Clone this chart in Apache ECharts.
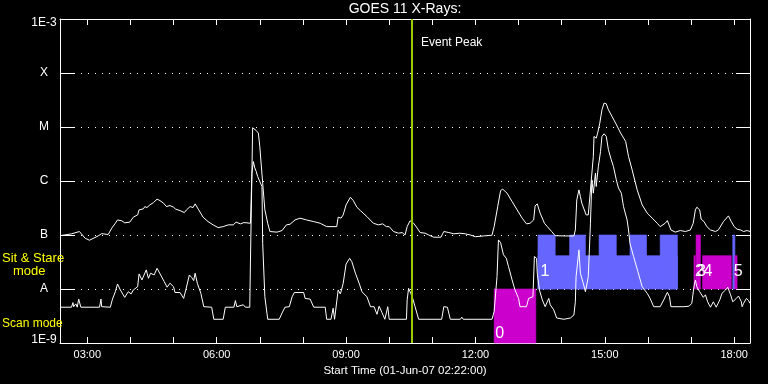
<!DOCTYPE html>
<html><head><meta charset="utf-8">
<script src="https://cdn.jsdelivr.net/npm/echarts@6/dist/echarts.min.js"></script>
<style>html,body{margin:0;padding:0;background:#000}#chart{width:768px;height:384px}</style>
</head><body><div id="chart"></div>
<script>
// ---------- data ----------
const axisStart = '02:22';
const axisEnd = '18:22';
const eventPeakTime = '10:31';
const xTickTimes = ['03:00','04:00','05:00','06:00','07:00','08:00','09:00','10:00','11:00','12:00','13:00','14:00','15:00','16:00','17:00','18:00'];
const xLabelTimes = ['03:00','06:00','09:00','12:00','15:00','18:00'];
const yTickLabels = ['1E-9','A','B','C','M','X','1E-3'];
const yMin = 1e-9, yMax = 1e-3;

// long-wavelength channel (upper curve)
const upperTimes = ['02:22','02:38','02:49','02:57','03:03','03:15','03:20','03:29','03:34','03:39','03:42','03:48','03:52','03:59','04:04','04:10','04:12','04:18','04:20','04:23','04:27','04:32','04:37','04:41','04:46','04:50','04:55','05:00','05:03','05:09','05:15','05:18','05:23','05:27','05:30','05:35','05:41','05:48','05:55','06:02','06:09','06:16','06:23','06:27','06:33','06:38','06:47','06:49','06:50','06:52','06:55','06:58','07:00','07:04','07:07','07:11','07:14','07:24','07:31','07:37','07:42','07:49','07:56','08:05','08:15','08:24','08:33','08:47','08:49','08:53','08:56','09:00','09:06','09:10','09:15','09:20','09:29','09:38','09:45','09:51','09:56','10:00','10:06','10:13','10:18','10:22','10:25','10:29','10:34','10:39','10:43','10:50','10:55','11:02','11:12','11:16','11:23','11:30','11:38','11:46','11:53','12:00','12:11','12:23','12:26','12:31','12:35','12:38','12:44','12:51','12:58','13:05','13:11','13:16','13:21','13:23','13:26','13:30','13:36','13:40','13:42','13:46','13:51','14:05','14:17','14:19','14:21','14:24','14:26','14:28','14:30','14:34','14:37','14:40','14:44','14:45','14:48','14:50','14:53','14:56','14:59','15:02','15:05','15:10','15:15','15:22','15:29','15:33','15:38','15:45','15:52','15:59','16:06','16:13','16:17','16:24','16:27','16:32','16:38','16:45','16:52','16:59','17:03','17:06','17:08','17:12','17:14','17:18','17:22','17:27','17:34','17:38','17:45','17:52','17:56','18:00','18:04','18:09','18:13','18:18','18:22'];
const upperFlux = [9.7e-8,1.05e-7,1.16e-7,8.7e-8,8.0e-8,9.6e-8,1.06e-7,1.02e-7,1.34e-7,1.65e-7,1.90e-7,1.83e-7,1.68e-7,1.73e-7,2.14e-7,2.36e-7,2.92e-7,3.05e-7,3.36e-7,3.22e-7,3.61e-7,3.98e-7,4.61e-7,4.34e-7,3.89e-7,3.36e-7,3.51e-7,3.27e-7,3.01e-7,2.83e-7,2.60e-7,2.92e-7,3.36e-7,3.22e-7,3.77e-7,2.92e-7,2.14e-7,1.77e-7,1.54e-7,1.37e-7,1.43e-7,1.54e-7,1.54e-7,1.73e-7,1.61e-7,1.70e-7,1.65e-7,1.40e-6,9.7e-6,9.95e-6,8.6e-6,7.7e-6,4.3e-6,9.1e-7,2.92e-7,1.65e-7,1.16e-7,1.13e-7,1.21e-7,1.54e-7,1.58e-7,1.90e-7,2.05e-7,1.90e-7,1.77e-7,1.65e-7,1.43e-7,1.43e-7,2.14e-7,2.05e-7,2.36e-7,3.61e-7,5.01e-7,4.34e-7,3.27e-7,2.83e-7,2.19e-7,1.65e-7,1.54e-7,1.61e-7,1.43e-7,1.43e-7,1.16e-7,1.08e-7,1.11e-7,1.00e-7,1.43e-7,1.83e-7,1.65e-7,1.34e-7,1.11e-7,1.08e-7,1.00e-7,9.1e-8,9.1e-8,1.16e-7,1.11e-7,1.05e-7,1.08e-7,1.05e-7,1.00e-7,9.3e-8,9.6e-8,9.9e-8,1.43e-7,3.36e-7,6.65e-7,7.06e-7,5.95e-7,4.16e-7,2.92e-7,2.05e-7,1.61e-7,1.65e-7,1.90e-7,3.46e-7,3.77e-7,2.54e-7,1.65e-7,1.43e-7,1.54e-7,1.16e-7,9.7e-8,9.6e-8,9.6e-8,1.24e-7,4.47e-7,6.85e-7,5.15e-7,3.89e-7,3.61e-7,2.36e-7,2.36e-7,6.85e-7,2.84e-6,6.7e-6,6.2e-6,7.7e-6,1.18e-5,2.08e-5,2.77e-5,2.69e-5,2.08e-5,1.57e-5,1.18e-5,7.7e-6,5.4e-6,2.84e-6,1.61e-6,6.85e-7,3.61e-7,2.54e-7,2.05e-7,1.65e-7,1.43e-7,1.65e-7,1.85e-7,1.24e-7,1.13e-7,1.21e-7,1.16e-7,1.24e-7,1.65e-7,2.92e-7,3.27e-7,2.92e-7,1.96e-7,1.77e-7,1.43e-7,1.24e-7,1.16e-7,1.24e-7,1.77e-7,2.26e-7,1.77e-7,1.43e-7,1.28e-7,1.24e-7,1.16e-7,1.21e-7,1.16e-7];

// short-wavelength channel (lower curve)
const lowerTimes = ['02:22','02:38','02:40','02:41','02:44','02:46','02:48','02:51','03:17','03:19','03:20','03:32','03:35','03:39','03:42','03:46','03:52','03:57','04:01','04:04','04:10','04:12','04:16','04:22','04:25','04:28','04:33','04:37','04:42','04:47','04:51','04:55','05:00','05:02','05:09','05:14','05:17','05:22','05:25','05:28','05:30','05:33','05:38','05:42','05:53','05:56','06:09','06:12','06:24','06:26','06:28','06:37','06:40','06:46','06:47','06:49','06:51','06:53','06:55','06:57','06:59','07:03','07:04','07:07','07:11','07:27','07:31','07:35','07:41','07:45','07:48','08:01','08:03','08:10','08:15','08:31','08:33','08:39','08:42','08:44','08:46','08:49','08:52','08:54','08:56','09:00','09:05','09:08','09:13','09:19','09:22','09:29','09:34','09:39','09:43','09:46','09:50','09:54','09:58','10:00','10:24','10:25','10:27','10:30','10:33','10:36','10:41','11:13','11:16','11:21','11:25','11:39','11:41','11:43','12:23','12:26','12:30','12:32','12:35','12:39','12:43','12:46','12:51','12:55','13:00','13:02','13:11','13:14','13:20','13:22','13:25','13:26','13:29','13:33','13:37','13:42','13:44','13:49','13:53','14:03','14:12','14:17','14:19','14:20','14:24','14:26','14:30','14:33','14:35','14:37','14:40','14:42','14:44','14:47','14:48','14:51','14:54','14:56','14:59','15:02','15:05','15:09','15:12','15:16','15:19','15:23','15:26','15:31','15:33','15:35','15:40','15:46','15:52','15:59','16:03','16:08','16:17','16:22','16:27','16:30','16:32','16:50','16:57','17:01','17:04','17:06','17:08','17:12','17:17','17:20','17:23','17:27','17:31','17:35','17:40','17:43','17:48','17:51','17:55','17:58','18:03','18:06','18:10','18:11','18:13','18:17','18:20','18:22'];
const lowerFlux = [4.6e-9,4.6e-9,5.6e-9,4.7e-9,5.3e-9,4.6e-9,6.5e-9,4.6e-9,4.6e-9,6.5e-9,4.7e-9,4.6e-9,6.5e-9,8.9e-9,1.24e-8,9.6e-9,7.0e-9,8.9e-9,8.1e-9,9.6e-9,1.1e-8,1.9e-8,1.47e-8,2.26e-8,1.58e-8,1.96e-8,1.82e-8,2.42e-8,1.82e-8,1.37e-8,1.08e-8,1.28e-8,1.1e-8,8.6e-9,8.6e-9,6.7e-9,9.6e-9,1.82e-8,1.65e-8,1.43e-8,1.96e-8,1.28e-8,8.3e-9,4.7e-9,4.6e-9,2.75e-9,2.75e-9,4.6e-9,4.6e-9,6.1e-9,4.7e-9,5.1e-9,4.6e-9,4.6e-9,3.45e-8,1.40e-6,2.29e-6,1.75e-6,1.5e-6,1.21e-6,1.14e-6,7.9e-7,7.0e-8,7.2e-9,2.75e-9,2.75e-9,3.6e-9,4.6e-9,4.7e-9,7.2e-9,8.6e-9,8.6e-9,6.7e-9,6.5e-9,4.6e-9,4.6e-9,2.75e-9,2.75e-9,4.4e-9,2.75e-9,2.75e-9,9.6e-9,8.1e-9,1.0e-8,1.28e-8,2.9e-8,3.7e-8,3.2e-8,1.96e-8,1.19e-8,8.9e-9,7.2e-9,4.7e-9,4.7e-9,3.4e-9,4.8e-9,3.65e-9,2.75e-9,4.7e-9,2.75e-9,2.75e-9,6.3e-9,1.03e-8,8.3e-9,6.5e-9,4.7e-9,2.75e-9,2.75e-9,4.7e-9,4.6e-9,2.75e-9,2.75e-9,3.0e-9,2.75e-9,2.75e-9,3.8e-9,1.69e-8,8.1e-8,7.2e-8,4.3e-8,3.7e-8,2.6e-8,1.47e-8,9.6e-9,6.7e-9,4.7e-9,4.7e-9,6.7e-9,7.2e-9,4.0e-8,3.7e-8,1.96e-8,9.6e-9,6.3e-9,4.7e-9,6.7e-9,5.1e-9,4.1e-9,2.9e-9,2.75e-9,2.9e-9,3.3e-9,5.8e-9,1.69e-8,5.3e-8,1.96e-8,1.28e-8,8.9e-9,8.9e-9,1.69e-8,1.65e-7,1.05e-6,5.95e-7,1.40e-6,7.9e-7,1.85e-6,3.5e-6,6.7e-6,7.5e-6,6.7e-6,3.8e-6,2.47e-6,1.85e-6,1.05e-6,7.4e-7,5.95e-7,3.36e-7,1.90e-7,1.24e-7,7.0e-8,4.0e-8,2.1e-8,1.1e-8,8.3e-9,6.7e-9,4.7e-9,4.7e-9,6.3e-9,8.7e-9,7.2e-9,4.7e-9,4.7e-9,4.8e-9,5.4e-9,1.1e-8,1.47e-8,1.1e-8,8.9e-9,7.0e-9,7.8e-9,5.8e-9,4.6e-9,5.8e-9,4.6e-9,6.3e-9,8.3e-9,9.6e-9,1.08e-8,7.8e-9,5.8e-9,6.7e-9,7.4e-9,5.8e-9,4.7e-9,5.4e-9,6.7e-9,6.1e-9,5.4e-9];

// pointing-mode blocks (0 = scan, 1 = sit & stare); block 1 is a base band plus taller segments
const blockStarts = ['12:26','13:27','13:27','14:11','14:52','15:35','16:17','17:04','17:07','17:16','17:58','18:01'];
const blockEnds   = ['13:24','16:41','13:51','14:33','15:16','15:58','16:41','17:06','17:13','17:56','18:01','18:04'];
const blockLows   = [1e-9,1e-8,1e-8,1e-8,1e-8,1e-8,1e-8,1e-8,1e-8,1e-8,1e-8,1e-8];
const blockHighs  = [1e-8,4.15e-8,1e-7,1e-7,1e-7,1e-7,1e-7,4.15e-8,1e-7,4.15e-8,1e-7,4.15e-8];
const blockModes  = [0,1,1,1,1,1,1,0,0,0,1,0];
const modeColors  = ['#cc00cc','#6666ff'];

const blockLabelTexts = ['0','1','2','3','4','5'];
const blockLabelTimes = ['12:26','13:29','17:04','17:07','17:16','17:58'];
const blockLabelFlux  = [1.5e-9,2.1e-8,2.1e-8,2.1e-8,2.1e-8,2.1e-8];

// ---------- helpers ----------
function toMin(s){ const p = s.split(':'); return (+p[0])*60 + (+p[1]); }
function toHHMM(m){ const h = Math.floor(m/60), mm = Math.round(m - h*60); return String(h).padStart(2,'0') + ':' + String(mm).padStart(2,'0'); }
const FONT = 'Liberation Sans';

const upperData = upperTimes.map((t,i)=>[toMin(t), upperFlux[i]]);
const lowerData = lowerTimes.map((t,i)=>[toMin(t), lowerFlux[i]]);
const blockData = blockStarts.map((t,i)=>[toMin(t), toMin(blockEnds[i]), blockLows[i], blockHighs[i], blockModes[i]]);
const labelData = blockLabelTimes.map((t,i)=>[toMin(t), blockLabelFlux[i]]);

const chart = echarts.init(document.getElementById('chart'), null, {renderer:'canvas'});
const xMin = toMin(axisStart), xMax = toMin(axisEnd);
const xTicks = xTickTimes.map(toMin), xLabels = xLabelTimes.map(toMin);

function yLabel(v){
  const e = Math.round(Math.log10(v));
  const s = yTickLabels[e + 9];
  if (e === -3) return '{top|' + s + '}';
  if (e === -9) return '{bot|' + s + '}';
  return s;
}

const option = {
  backgroundColor: '#000',
  animation: false,
  grid: {left: 60, right: 18, top: 19, bottom: 41, containLabel: false},
  xAxis: [{
    type: 'value', min: xMin, max: xMax, position: 'bottom',
    axisLine: {show: true, lineStyle: {color: '#fff', width: 1}},
    axisTick: {show: true, inside: true, length: 6, customValues: xTicks, lineStyle: {color: '#fff'}},
    axisLabel: {show: true, customValues: xLabels, formatter: v => toHHMM(v), color: '#fff', fontFamily: FONT, fontSize: 11, margin: 6},
    splitLine: {show: false},
    name: 'Start Time (01-Jun-07 02:22:00)', nameLocation: 'middle', nameGap: 19,
    nameTextStyle: {color: '#fff', fontFamily: FONT, fontSize: 11.5}
  }, {
    type: 'value', min: xMin, max: xMax, position: 'top',
    axisLine: {show: true, lineStyle: {color: '#fff', width: 1}},
    axisTick: {show: true, inside: true, length: 6, customValues: xTicks, lineStyle: {color: '#fff'}},
    axisLabel: {show: false}, splitLine: {show: false}
  }],
  yAxis: [{
    type: 'log', logBase: 10, min: yMin, max: yMax, splitNumber: 6, position: 'left',
    axisLine: {show: true, lineStyle: {color: '#fff', width: 1}},
    axisTick: {show: true, inside: true, length: 14, lineStyle: {color: '#fff'}},
    axisLabel: {show: true, color: '#fff', fontFamily: FONT, fontSize: 12, align: 'center', margin: 16,
      formatter: yLabel,
      rich: {top: {color:'#fff', fontFamily: FONT, fontSize: 12, padding: [8,0,0,0]},
             bot: {color:'#fff', fontFamily: FONT, fontSize: 12, padding: [0,0,6,0]}}},
    splitLine: {show: true, showMinLine: false, showMaxLine: false, lineStyle: {color: '#fff', width: 1, type: [1, 6]}}
  }, {
    type: 'log', logBase: 10, min: yMin, max: yMax, splitNumber: 6, position: 'right',
    axisLine: {show: true, lineStyle: {color: '#fff', width: 1}},
    axisTick: {show: true, inside: true, length: 14, lineStyle: {color: '#fff'}},
    axisLabel: {show: false}, splitLine: {show: false}
  }],
  graphic: [
    {type: 'text', x: 405, y: 2, z: 10, style: {text: 'GOES 11 X-Rays:', fill: '#fff', font: '14px "' + FONT + '"', align: 'center', verticalAlign: 'top'}},
    {type: 'text', x: 421, y: 43, z: 10, style: {text: 'Event Peak', fill: '#fff', font: '12px "' + FONT + '"', align: 'left', verticalAlign: 'middle'}},
    {type: 'text', x: 2, y: 258.5, z: 10, style: {text: 'Sit & Stare', fill: '#ffff00', font: '13px "' + FONT + '"', align: 'left', verticalAlign: 'middle'}},
    {type: 'text', x: 13, y: 271, z: 10, style: {text: 'mode', fill: '#ffff00', font: '13px "' + FONT + '"', align: 'left', verticalAlign: 'middle'}},
    {type: 'text', x: 2, y: 323.5, z: 10, style: {text: 'Scan mode', fill: '#ffff00', font: '12px "' + FONT + '"', align: 'left', verticalAlign: 'middle'}}
  ],
  series: [
    {
      type: 'custom', name: 'mode', z: 1, xAxisIndex: 0, yAxisIndex: 0,
      data: blockData, encode: {x: [0, 1], y: [2, 3]},
      renderItem: function (params, api) {
        const p0 = api.coord([api.value(0), api.value(3)]);
        const p1 = api.coord([api.value(1), api.value(2)]);
        const c = modeColors[api.value(4)];
        return {type: 'rect', shape: {x: p0[0], y: p0[1], width: p1[0] - p0[0], height: p1[1] - p0[1]},
                style: {fill: c, stroke: c, lineWidth: 0.6}};
      }
    },
    {
      type: 'custom', name: 'modeLabels', z: 3, xAxisIndex: 0, yAxisIndex: 0,
      data: labelData, encode: {x: 0, y: 1},
      renderItem: function (params, api) {
        const p = api.coord([api.value(0), api.value(1)]);
        return {type: 'text', x: p[0] + 1, y: p[1],
                style: {text: blockLabelTexts[params.dataIndex], fill: '#fff', font: '16px "' + FONT + '"', align: 'left', verticalAlign: 'middle'}};
      }
    },
    {
      type: 'line', name: 'upper', z: 4, data: upperData, showSymbol: false, symbol: 'none',
      lineStyle: {color: '#fff', width: 1}, silent: true
    },
    {
      type: 'line', name: 'lower', z: 4, data: lowerData, showSymbol: false, symbol: 'none',
      lineStyle: {color: '#fff', width: 1}, silent: true
    },
    {
      type: 'line', name: 'event', z: 5, data: [], silent: true,
      markLine: {silent: true, symbol: 'none', animation: false, label: {show: false},
        lineStyle: {color: '#99cc00', width: 2, type: 'solid'},
        data: [{xAxis: toMin(eventPeakTime)}]}
    }
  ]
};
chart.setOption(option);
</script>
</body></html>
